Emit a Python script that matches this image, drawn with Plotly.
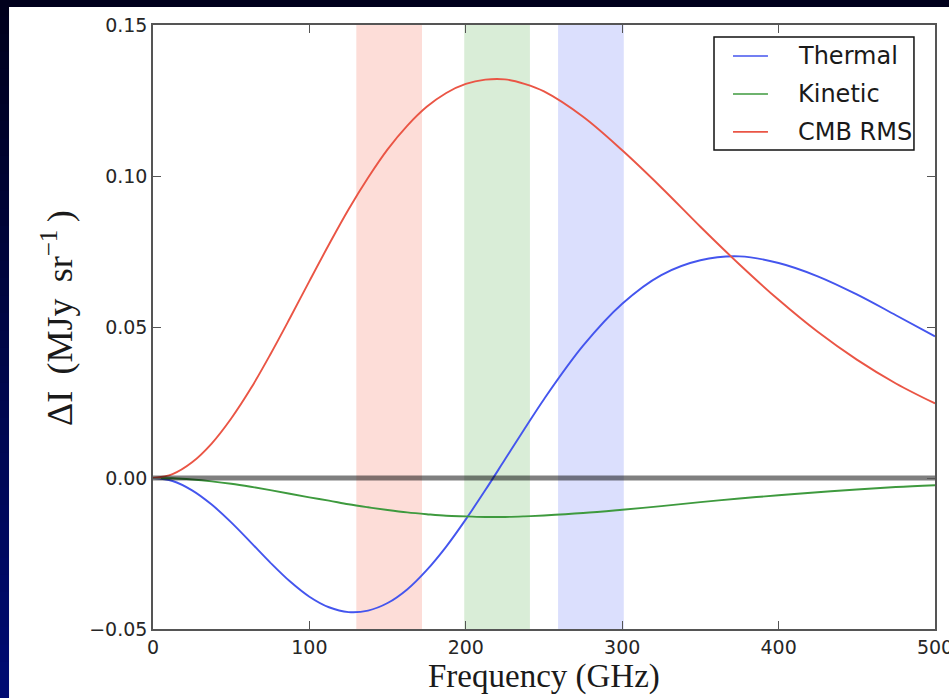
import plotly.graph_objects as go

# Spectral distortion curves (GHz, MJy/sr)
freq_ghz = [0, 12.5, 25, 37.5, 50, 62.5, 75, 87.5, 100, 112.5, 125, 137.5,
            150, 162.5, 175, 187.5, 200, 212.5, 225, 237.5, 250,
            275, 300, 325, 350, 375, 400, 425, 450, 475, 500]
thermal = [0.0, -0.0010, -0.0041, -0.0088, -0.0147, -0.0213, -0.0280, -0.0342,
           -0.0393, -0.0428, -0.0444, -0.0439, -0.0414, -0.0369, -0.0305,
           -0.0227, -0.0137, -0.0040, 0.0061, 0.0162, 0.0261,
           0.0438, 0.0577, 0.0672, 0.0721, 0.0734, 0.0712, 0.0668, 0.0608,
           0.0539, 0.0469]
kinetic = [0.0, -0.0001, -0.0005, -0.0011, -0.0019, -0.0029, -0.0040, -0.0052,
           -0.0064, -0.0075, -0.0087, -0.0097, -0.0106, -0.0114, -0.0120,
           -0.0125, -0.0127, -0.0129, -0.0129, -0.0127, -0.0124,
           -0.0116, -0.0105, -0.0093, -0.0080, -0.0068, -0.0057, -0.0047,
           -0.0038, -0.0030, -0.0024]
cmb_rms = [0.0, 0.0013, 0.0052, 0.0114, 0.0197, 0.0296, 0.0409, 0.0529,
           0.0652, 0.0773, 0.0889, 0.0994, 0.1088, 0.1166, 0.1229, 0.1275,
           0.1305, 0.1319, 0.1320, 0.1305, 0.1280,
           0.1196, 0.1085, 0.0962, 0.0832, 0.0707, 0.0590, 0.0484, 0.0392,
           0.0313, 0.0247]

series_names = ["Thermal", "Kinetic", "CMB RMS"]
series_values = [thermal, kinetic, cmb_rms]
series_colors = ["#4455EE", "#3E9A3E", "#EA5545"]

# Observing bands (GHz)
bands_ghz = [(130, 172), (199, 241), (259, 301)]
band_colors = ["#FDDDD8", "#D9EDD7", "#DBDFFD"]

x_ticks = [0, 100, 200, 300, 400, 500]
y_ticks = [-0.05, 0.0, 0.05, 0.10, 0.15]
y_tick_labels = ["\u22120.05", "0.00", "0.05", "0.10", "0.15"]

fig = go.Figure()

for name, vals, col in zip(series_names, series_values, series_colors):
    fig.add_trace(go.Scatter(
        x=freq_ghz, y=vals, mode="lines", name=name,
        line=dict(color=col, width=1.9, shape="spline", smoothing=1.0),
        showlegend=False,
    ))

# zero reference line
fig.add_trace(go.Scatter(
    x=[0, 500], y=[0, 0], mode="lines",
    line=dict(color="rgba(0,0,0,0.5)", width=5),
    showlegend=False, hoverinfo="skip",
))

shapes = []

# dark slide background, vertical gradient
n_stripes = 40
top_y, bot_y = 1.0414, -0.1142
c_top, c_bot = (0, 0, 28), (0, 11, 114)
for i in range(n_stripes):
    t = i / (n_stripes - 1)
    r = round(c_top[0] + (c_bot[0] - c_top[0]) * t)
    g = round(c_top[1] + (c_bot[1] - c_top[1]) * t)
    b = round(c_top[2] + (c_bot[2] - c_top[2]) * t)
    y0 = top_y + (bot_y - top_y) * (i + 1) / n_stripes
    y1 = top_y + (bot_y - top_y) * i / n_stripes
    shapes.append(dict(type="rect", xref="paper", yref="paper",
                       x0=-0.2, x1=1.05, y0=y0 - 0.002, y1=y1 + 0.002,
                       fillcolor=f"rgb({r},{g},{b})", line_width=0, layer="below"))

# white figure panel
shapes.append(dict(type="rect", xref="paper", yref="paper",
                   x0=-0.1841, x1=1.05, y0=-0.2, y1=1.0298,
                   fillcolor="white", line_width=0, layer="below"))

# observing bands
for (lo, hi), col in zip(bands_ghz, band_colors):
    shapes.append(dict(type="rect", xref="x", yref="paper",
                       x0=lo, x1=hi, y0=0, y1=1,
                       fillcolor=col, line_width=0, layer="below"))

# legend box
leg_x0, leg_x1, leg_y0, leg_y1 = 0.7174, 0.9731, 0.7930, 0.9801
shapes.append(dict(type="rect", xref="paper", yref="paper",
                   x0=leg_x0, x1=leg_x1, y0=leg_y0, y1=leg_y1,
                   fillcolor="white", line=dict(color="#111111", width=1.5),
                   layer="above"))
row_y = [0.9487, 0.8858, 0.8229]
annotations = []
for name, col, ry in zip(series_names, series_colors, row_y):
    shapes.append(dict(type="line", xref="paper", yref="paper",
                       x0=0.7417, x1=0.7864, y0=ry, y1=ry,
                       line=dict(color=col, width=1.7), layer="above"))
    annotations.append(dict(xref="paper", yref="paper", x=0.8223, y=ry,
                            text=name, showarrow=False, xanchor="left",
                            yanchor="middle",
                            font=dict(family="DejaVu Sans", size=24,
                                      color="#1a1a1a")))

# axis titles
annotations.append(dict(xref="paper", yref="paper", x=0.5, y=-0.078,
                        text="Frequency (GHz)", showarrow=False,
                        xanchor="center", yanchor="middle",
                        font=dict(family="Liberation Serif", size=33,
                                  color="#1a1a1a")))
annotations.append(dict(xref="paper", yref="paper", x=-0.1215, y=0.515,
                        text="\u0394I\u2009 (MJy\u2009 sr<sup>\u22121</sup>\u2009)",
                        showarrow=False, textangle=-90,
                        xanchor="center", yanchor="middle",
                        font=dict(family="Liberation Serif", size=36,
                                  color="#1a1a1a")))

axis_common = dict(
    showgrid=False, zeroline=False, showline=True, linecolor="#555555",
    linewidth=1.5, mirror="ticks", ticks="inside", ticklen=8,
    tickcolor="#555555", tickwidth=1, ticklabeloverflow="allow",
    automargin=False,
    tickfont=dict(family="DejaVu Sans", size=19, color="#262626"),
)

fig.update_layout(
    width=949, height=698,
    margin=dict(l=153, r=14, t=25, b=69, autoexpand=False),
    paper_bgcolor="#00001c", plot_bgcolor="rgba(0,0,0,0)",
    shapes=shapes, annotations=annotations,
    xaxis=dict(range=[0, 500], tickvals=x_ticks,
               ticktext=[str(v) for v in x_ticks], **axis_common),
    yaxis=dict(range=[-0.05, 0.15], tickvals=y_ticks,
               ticktext=y_tick_labels, **axis_common),
)

fig.write_html("out.html")
